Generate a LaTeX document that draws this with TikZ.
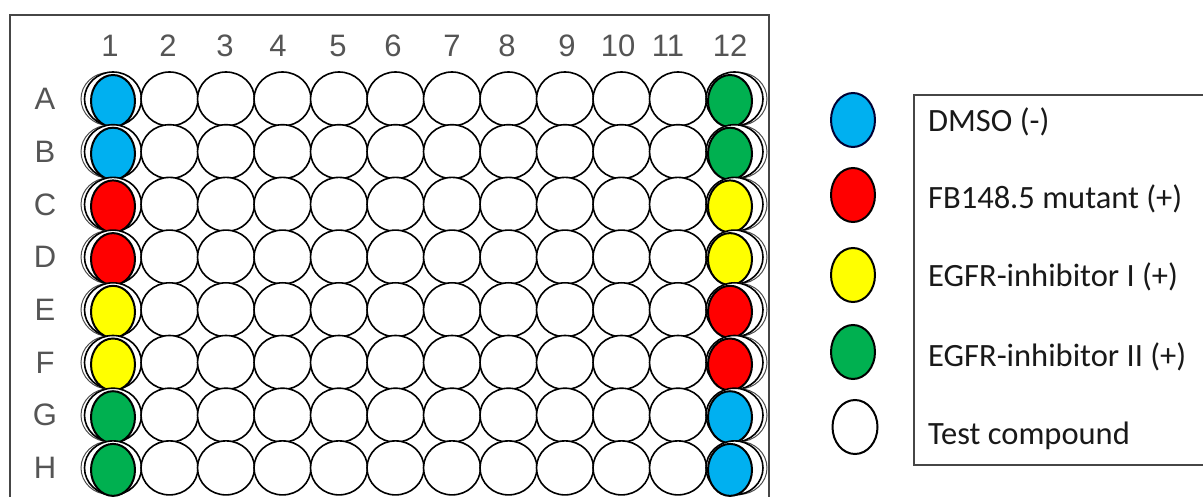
\documentclass[tikz,border=0pt]{standalone}
\usepackage{fontspec}
\setmainfont{Liberation Sans}
\newfontfamily\calib{Carlito}
\usetikzlibrary{shapes.geometric}
\definecolor{wblue}{RGB}{0,176,240}
\definecolor{wred}{RGB}{255,0,0}
\definecolor{wyellow}{RGB}{255,255,0}
\definecolor{wgreen}{RGB}{0,176,80}
\definecolor{labgray}{RGB}{85,85,85}
\definecolor{framegray}{RGB}{70,70,70}
\begin{document}
\begin{tikzpicture}[x=1pt,y=-1pt,
  well/.style={ellipse,draw=black,line width=1.6pt,fill=white,minimum width=57pt,minimum height=54pt,inner sep=0pt},
  ghost/.style={ellipse,draw=black!70,line width=1pt,minimum width=56pt,minimum height=53pt,inner sep=0pt},
  ctrl/.style={ellipse,draw=black,line width=2pt,minimum width=44pt,minimum height=52pt,inner sep=0pt},
  platelab/.style={font=\fontsize{31}{36}\selectfont,text=labgray,inner sep=0pt},
  legtext/.style={font=\calib\fontsize{32.5}{38}\selectfont,text=black!90,anchor=base west,inner sep=0pt},
  legwell/.style={ellipse,draw=black,line width=2pt,minimum width=44pt,minimum height=54pt,inner sep=0pt}]
\useasboundingbox (0,0) rectangle (1203,497);
\fill[white] (0,0) rectangle (1203,497);
% plate frame
\draw[framegray,line width=2pt] (10,510) -- (10,15) -- (769,15) -- (769,510);
% column labels
\foreach \c/\x in {1/110,2/168,3/225,4/278,5/338,6/393,7/452,8/507,9/567,10/618,11/668,12/730}
  \node[platelab] (col\c) at (\x,46) {\c};
% rows
\foreach \r/\lab/\cl/\cr in {0/A/wblue/wgreen,1/B/wblue/wgreen,2/C/wred/wyellow,3/D/wred/wyellow,4/E/wyellow/wred,5/F/wyellow/wred,6/G/wgreen/wblue,7/H/wgreen/wblue}{
  \pgfmathsetmacro\yy{99+52.7*\r}
  \node[platelab] (row\lab) at (45,\yy) {\lab};
  \node[ghost] (g\lab1) at (109,\yy) {};
  \node[ghost] (g\lab12) at (739,\yy) {};
  \foreach \c in {1,...,12}{
    \pgfmathsetmacro\xx{113+56.5*(\c-1)}
    \node[well] (w\lab\c) at (\xx,\yy) {};
  }
  \node[ctrl,fill=\cl] (c\lab1) at (113,\yy+2) {};
  \node[ctrl,fill=\cr] (c\lab12) at (730,\yy+2) {};
}
% legend
\draw[framegray,line width=1.5pt] (1215,95) -- (914,95) -- (914,465) -- (1215,465);
\node[legwell,fill=wblue,draw=black!80!blue] (l1) at (853,120) {};
\node[legwell,fill=wred] (l2) at (853,195) {};
\node[legwell,fill=wyellow] (l3) at (853,275) {};
\node[legwell,fill=wgreen] (l4) at (853,352) {};
\node[legwell,fill=white,minimum width=45pt] (l5) at (855,427) {};
\node[legtext] (t1) at (928,132) {DMSO (-)};
\node[legtext] (t2) at (928,209) {FB148.5 mutant (+)};
\node[legtext] (t3) at (928,287) {EGFR-inhibitor I (+)};
\node[legtext] (t4) at (928,366) {EGFR-inhibitor II (+)};
\node[legtext] (t5) at (928,444) {Test compound};
\end{tikzpicture}
\end{document}
